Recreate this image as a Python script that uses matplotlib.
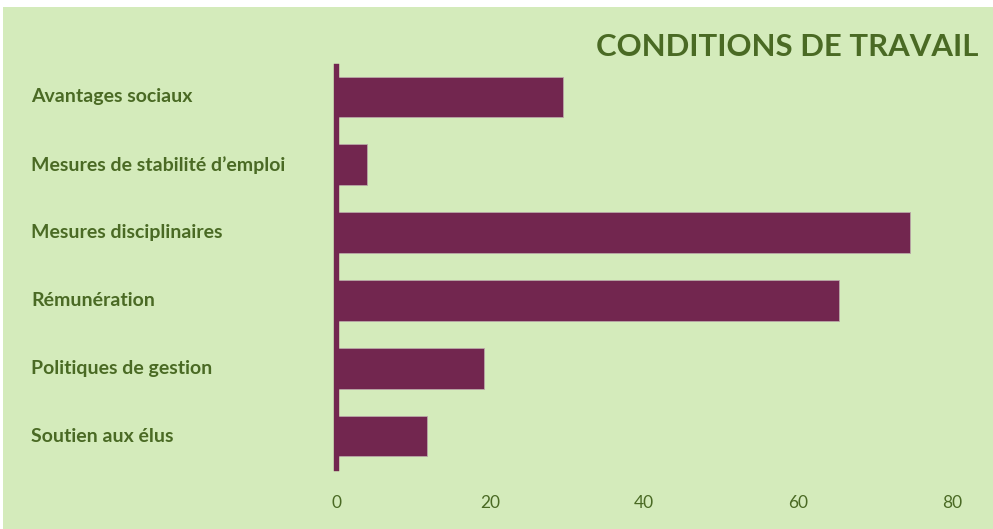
import matplotlib
matplotlib.use("Agg")
import matplotlib.pyplot as plt
from matplotlib.patches import Rectangle
from matplotlib.transforms import blended_transform_factory

categories = ["Avantages sociaux", "Mesures de stabilité d’emploi", "Mesures disciplinaires",
              "Rémunération", "Politiques de gestion", "Soutien aux élus"]
values = [29.5, 4, 74.5, 65.3, 19.2, 11.8]
xticks = [0, 20, 40, 60, 80]
title = "CONDITIONS DE TRAVAIL"

BG = "#d4ebbb"
BAR = "#72264f"
TXT = "#4a6a24"

W, H = 993, 529
fig = plt.figure(figsize=(W/100, H/100), dpi=100, facecolor="white")
fig.patches.append(Rectangle((3/W, 0), 1, 1 - 7/H, transform=fig.transFigure,
                             facecolor=BG, edgecolor="none", zorder=-10))

ax = fig.add_axes([336/W, 1 - 470/H, 616/W, (470 - 63)/H])
ax.set_facecolor("none")
ypos = list(range(len(categories)))
ax.barh(ypos, values, height=0.6, color=BAR, edgecolor="#b9a7a7", linewidth=0.6, zorder=2)
ax.set_xlim(0, 80)
ax.set_ylim(len(categories) - 0.5, -0.5)
for s in ["top", "right", "bottom"]:
    ax.spines[s].set_visible(False)
ax.spines["left"].set_color(BAR)
ax.spines["left"].set_linewidth(3.9)
ax.spines["left"].set_zorder(3)
ax.spines["left"].set_bounds(len(categories) - 0.53, -0.45)
ax.set_yticks([])
ax.set_xticks(xticks)
ax.set_xticklabels([str(t) for t in xticks], fontsize=12.5, color=TXT, family="Lato")
ax.tick_params(axis="x", length=0, pad=18)

tr = blended_transform_factory(fig.transFigure, ax.transData)
for i, c in enumerate(categories):
    ax.text(31/W, i, c, transform=tr, ha="left", va="center", fontsize=14,
            fontweight="bold", color=TXT, family="Lato")

fig.text(978/W, 1 - 47/H, title, ha="right", va="center", fontsize=22.4,
         fontweight="bold", color=TXT, family="Lato")

fig.savefig("out.png", dpi=100, facecolor="white")
